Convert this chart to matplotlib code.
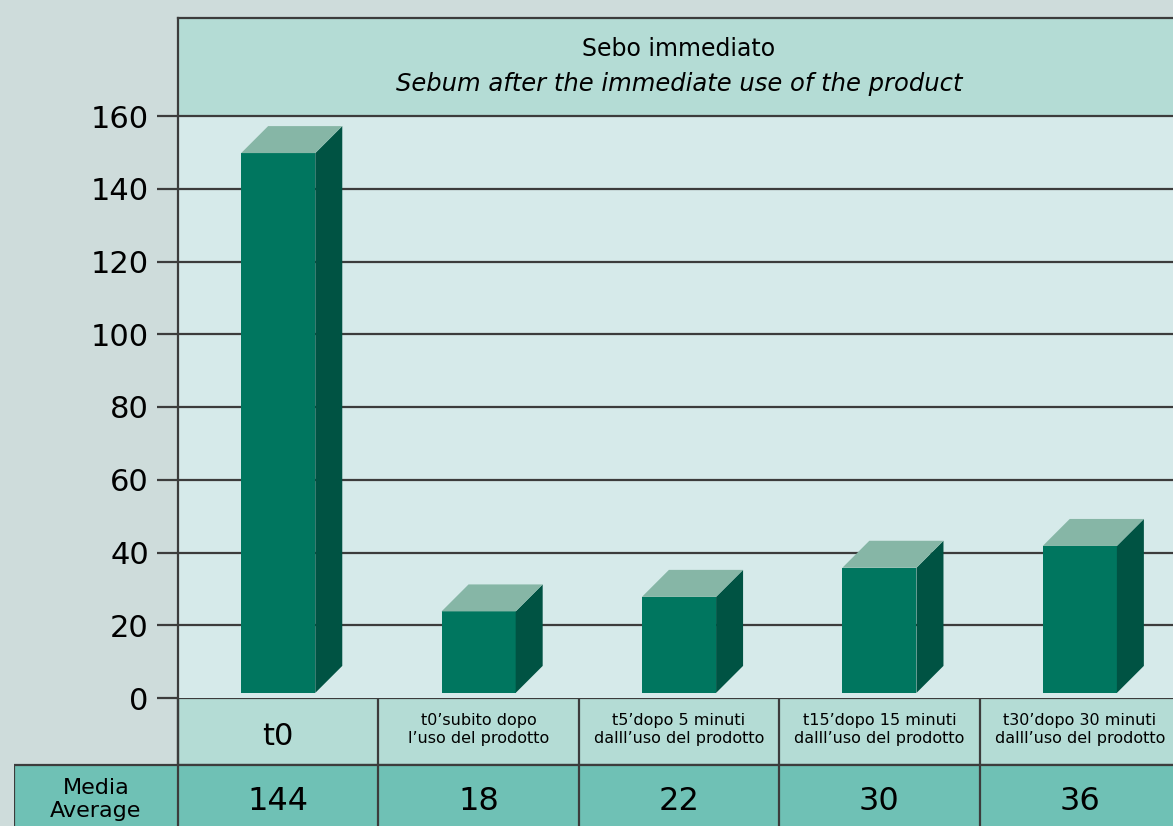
import matplotlib.pyplot as plt
from matplotlib.patches import Rectangle, Polygon

plt.rcParams['font.family'] = ['DejaVu Sans']

categories = ["t0",
              "t0\u2019subito dopo\nl\u2019uso del prodotto",
              "t5\u2019dopo 5 minuti\ndalll\u2019uso del prodotto",
              "t15\u2019dopo 15 minuti\ndalll\u2019uso del prodotto",
              "t30\u2019dopo 30 minuti\ndalll\u2019uso del prodotto"]
averages = [144, 18, 22, 30, 36]
yticks = [0, 20, 40, 60, 80, 100, 120, 140, 160]

title_it = "Sebo immediato"
title_en = "Sebum after the immediate use of the product"
row_label = "Media\nAverage"

fig_bg = "#cedcdb"
plot_bg = "#d6eaea"
band_bg = "#b4dcd5"
avg_bg = "#6fc1b5"
front_c = "#00765f"
side_c = "#005343"
top_c = "#86b6a6"
line_c = "#3c3c3c"

W, H = 1173, 826
fig = plt.figure(figsize=(W / 100, H / 100), dpi=100)
fig.patch.set_facecolor(fig_bg)

# main plot area, 178..1180 px wide (cut on the right like the original)
px_per_unit = (698 - 116) / 160
band = (116 - 18) / px_per_unit
ax = fig.add_axes([178 / W, (H - 698) / H, 1002 / W, (698 - 18) / H])
ax.set_xlim(-0.5, 4.5)
ax.set_ylim(0, 160 + band)
ax.set_facecolor(plot_bg)

ax.add_patch(Rectangle((-0.5, 160), 5, band, facecolor=band_bg, edgecolor='none', zorder=0.5))
for t in yticks[1:]:
    ax.axhline(t, color=line_c, lw=1.6, zorder=1)

ax.set_yticks(yticks)
ax.set_yticklabels([str(t) for t in yticks], fontsize=22)
ax.tick_params(axis='y', length=15, width=1.6, color=line_c, pad=6)
ax.set_xticks([])
for s in ['right', 'bottom']:
    ax.spines[s].set_visible(False)
for s in ['left', 'top']:
    ax.spines[s].set_color(line_c)
    ax.spines[s].set_linewidth(1.6)

ax.text(2, 160 + band * 0.68, title_it, ha='center', va='center', fontsize=17)
ax.text(2, 160 + band * 0.33, title_en, ha='center', va='center', fontsize=17.5, style='italic')

# 3D-look bars
half_w = 0.185
dx = 27 / 200.4
dy = 27 / px_per_unit
floor = 1.4
lift = 5.8
xs = list(range(len(averages)))
tops = [v + lift for v in averages]
ax.bar(xs, [t - floor for t in tops], bottom=floor, width=2 * half_w,
       color=front_c, edgecolor='none', zorder=3)
for x, t in zip(xs, tops):
    r = x + half_w
    l = x - half_w
    ax.add_patch(Polygon([(r, floor), (r + dx, floor + dy), (r + dx, t + dy), (r, t)],
                         closed=True, facecolor=side_c, edgecolor='none', zorder=3))
    ax.add_patch(Polygon([(l, t), (r, t), (r + dx, t + dy), (l + dx, t + dy)],
                         closed=True, facecolor=top_c, edgecolor='none', zorder=3))

# table below the chart
left_px = 14
x0 = -0.5 - (178 - left_px) / 200.4
tab = fig.add_axes([left_px / W, (H - 832) / H, (1180 - left_px) / W, (832 - 698) / H])
tab.set_xlim(x0, 4.5)
tab.set_ylim(0, 2)
tab.axis('off')
tab.add_patch(Rectangle((-0.5, 1), 5, 1, facecolor=band_bg, edgecolor=line_c, lw=1.6))
tab.add_patch(Rectangle((x0, 0), 4.5 - x0, 1, facecolor=avg_bg, edgecolor=line_c, lw=1.6))
for b in [0.5, 1.5, 2.5, 3.5]:
    tab.plot([b, b], [0, 2], color=line_c, lw=1.6)
tab.plot([-0.5, -0.5], [0, 2], color=line_c, lw=1.6)

for x, c in zip(xs, categories):
    if "\n" in c:
        tab.text(x, 1.53, c, ha='center', va='center', fontsize=11.5, linespacing=1.3)
    else:
        tab.text(x, 1.42, c, ha='center', va='center', fontsize=22)
for x, v in zip(xs, averages):
    tab.text(x, 0.45, str(v), ha='center', va='center', fontsize=23)
tab.text((x0 - 0.5) / 2, 0.48, row_label, ha='center', va='center', fontsize=16, linespacing=1.2)

fig.savefig("out.png", dpi=100, facecolor=fig_bg)
